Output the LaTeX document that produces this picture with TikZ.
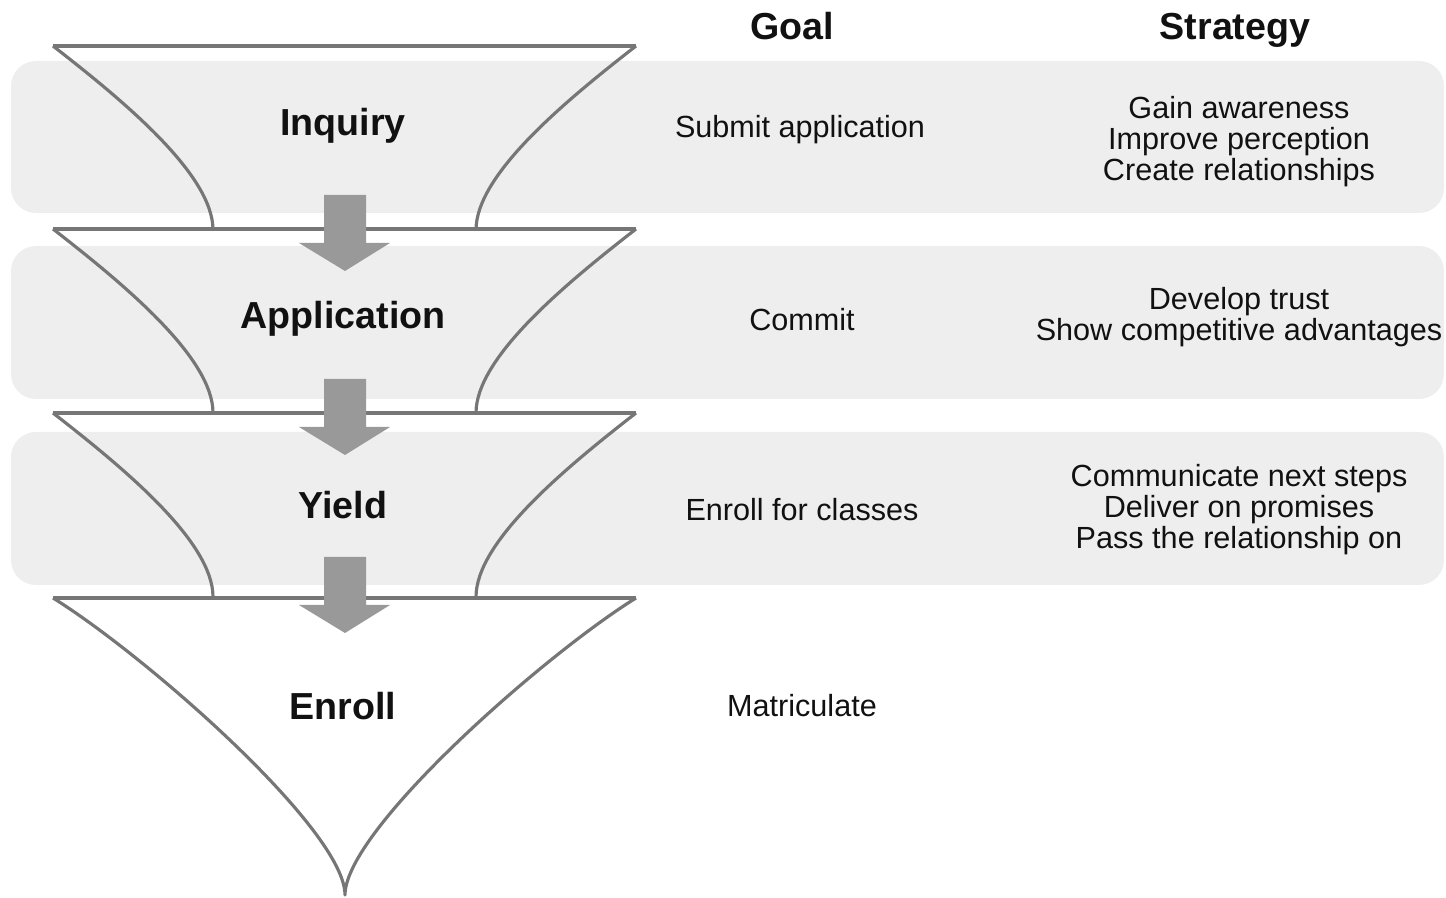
\documentclass[tikz,border=0pt]{standalone}
\usepackage{fontspec}
\setmainfont{Liberation Sans}
\usetikzlibrary{positioning, calc}
\definecolor{bandgray}{HTML}{EEEEEE}
\definecolor{funnelline}{HTML}{767676}
\definecolor{flowgray}{HTML}{999999}
\definecolor{textmain}{HTML}{111111}

\begin{document}
\begin{tikzpicture}[
    x=0.01cm, y=-0.01cm,
    band/.style={fill=bandgray, rounded corners=0.25cm},
    funnel/.style={draw=funnelline, line width=0.9pt, line join=round},
    flow/.style={fill=flowgray},
    stage/.style={text=textmain, anchor=base, inner sep=0pt,
                  font=\fontsize{10.7}{12}\selectfont\bfseries},
    goal/.style={text=textmain, anchor=base, inner sep=0pt,
                 font=\fontsize{8.7}{8.8}\selectfont},
    strategy/.style={text=textmain, align=center, inner sep=0pt,
                     font=\fontsize{8.7}{8.8}\selectfont}
  ]
    \useasboundingbox (0,0) rectangle (1446,898);

    % gray rows behind the first three stages
    \foreach \top/\bot in {61/213, 246/399, 432/585}
      \fill[band] (11,\top) rectangle (1444,\bot);

    % funnel sections
    \foreach \y in {46, 229, 413} {
      \draw[funnel] (53,\y) -- (636,\y);
      \draw[funnel] (53,\y) .. controls (125,\y+56) and (213,\y+129) .. (213,\y+184);
      \draw[funnel] (636,\y) .. controls (564,\y+56) and (476,\y+129) .. (476,\y+184);
    }
    \draw[funnel] (53,598) -- (636,598);
    \draw[funnel] (53,598) .. controls (145,655) and (345,830) .. (345,895)
                           .. controls (345,830) and (544,655) .. (636,598);

    % block arrows between the stages
    \foreach \t in {271, 455, 633}
      \fill[flow] (324,\t-76) -- (366,\t-76) -- (366,\t-28) -- (390,\t-28)
                  -- (345,\t) -- (299,\t-28) -- (324,\t-28) -- cycle;

    \node[stage] (goalhead) at (792,40) {Goal};
    \node[stage] (strathead) at (1235,40) {Strategy};

    \node[stage] (inquiry) at (343,136) {Inquiry};
    \node[stage] (application) at (343,329) {Application};
    \node[stage] (yield) at (343,519) {Yield};
    \node[stage] (enroll) at (343,719) {Enroll};

    \node[goal] (submit) at (800,138) {Submit application};
    \node[goal] (commit) at (802,331) {Commit};
    \node[goal] (classes) at (802,521) {Enroll for classes};
    \node[goal] (matriculate) at (802,717) {Matriculate};

    \node[strategy] (awareness) at (1239,142)
      {Gain awareness\\Improve perception\\Create relationships};
    \node[strategy] (trust) at (1239,317)
      {Develop trust\\Show competitive advantages};
    \node[strategy] (steps) at (1239,510)
      {Communicate next steps\\Deliver on promises\\Pass the relationship on};
  \end{tikzpicture}
\end{document}
